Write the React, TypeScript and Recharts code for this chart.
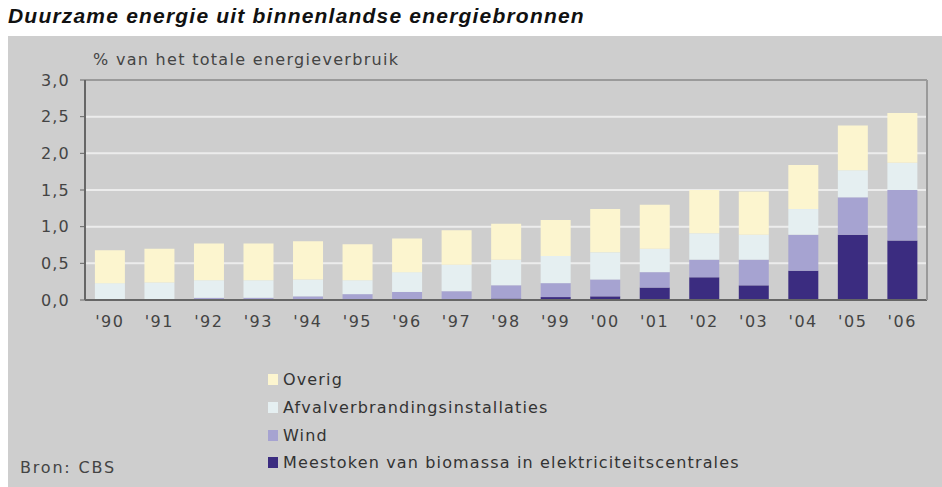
import React from "react";
import {
  BarChart,
  Bar,
  XAxis,
  YAxis,
  CartesianGrid,
  ReferenceLine,
  Legend,
} from "recharts";

const years = ["'90", "'91", "'92", "'93", "'94", "'95", "'96", "'97", "'98", "'99", "'00", "'01", "'02", "'03", "'04", "'05", "'06"];

const biomassa = [0, 0, 0, 0, 0, 0, 0, 0.01, 0.02, 0.04, 0.05, 0.17, 0.31, 0.2, 0.4, 0.89, 0.81];
const wind = [0.01, 0.01, 0.03, 0.03, 0.05, 0.08, 0.11, 0.11, 0.18, 0.19, 0.23, 0.21, 0.24, 0.35, 0.49, 0.51, 0.69];
const afval = [0.22, 0.23, 0.24, 0.24, 0.23, 0.19, 0.27, 0.36, 0.35, 0.37, 0.37, 0.32, 0.36, 0.34, 0.35, 0.37, 0.37];
const overig = [0.45, 0.46, 0.5, 0.5, 0.52, 0.49, 0.46, 0.47, 0.49, 0.49, 0.59, 0.6, 0.59, 0.59, 0.6, 0.61, 0.68];

const yTicks = [0, 0.5, 1, 1.5, 2, 2.5, 3];

// stack order bottom -> top
const series = [
  { key: "biomassa", name: "Meestoken van biomassa in elektriciteitscentrales", color: "#3b2c80" },
  { key: "wind", name: "Wind", color: "#a6a3d1" },
  { key: "afval", name: "Afvalverbrandingsinstallaties", color: "#e5eff1" },
  { key: "overig", name: "Overig", color: "#fcf5cf" },
];

const data = years.map((year, i) => ({
  year,
  biomassa: biomassa[i],
  wind: wind[i],
  afval: afval[i],
  overig: overig[i],
}));

const font = "'DejaVu Sans', Verdana, sans-serif";
const textStyle = { fontFamily: font, fontSize: 16, color: "#444", letterSpacing: 1.2 };

function LegendBox() {
  return (
    <div style={{ ...textStyle, color: "#333", letterSpacing: 1.15 }}>
      {[...series].reverse().map((s) => (
        <div key={s.key} style={{ display: "flex", alignItems: "center", height: 27.7 }}>
          <span style={{ width: 10, height: 11, background: s.color, marginRight: 5, display: "inline-block" }} />
          <span>{s.name}</span>
        </div>
      ))}
    </div>
  );
}

export default function App() {
  return (
    <div style={{ position: "absolute", left: 0, top: 0, width: 942, height: 487, background: "#fff", overflow: "hidden" }}>
      <div
        style={{
          position: "absolute",
          left: 8,
          top: 4,
          fontFamily: "'Liberation Sans', Arial, sans-serif",
          fontWeight: "bold",
          fontStyle: "italic",
          fontSize: 21,
          letterSpacing: 1.2,
          color: "#111",
        }}
      >
        Duurzame energie uit binnenlandse energiebronnen
      </div>
      <div style={{ position: "absolute", left: 8, top: 36, width: 934, height: 451, background: "#cecece" }} />
      <div style={{ ...textStyle, position: "absolute", left: 93, top: 50, letterSpacing: 1.3 }}>
        % van het totale energieverbruik
      </div>
      <div style={{ ...textStyle, position: "absolute", left: 20, top: 458, letterSpacing: 1.8 }}>
        Bron: CBS
      </div>
      <div style={{ position: "absolute", left: 0, top: 0 }}>
        <BarChart
          width={942}
          height={487}
          data={data}
          margin={{ top: 80, right: 14, bottom: 157, left: 5 }}
          barCategoryGap="20%"
        >
          <CartesianGrid vertical={false} stroke="#ececec" strokeWidth={2} />
          <XAxis
            dataKey="year"
            height={30}
            tickLine={false}
            axisLine={{ stroke: "#666", strokeWidth: 2 }}
            tick={{ fill: "#444", fontSize: 16, fontFamily: font, letterSpacing: 1.5 }}
            tickMargin={10}
            interval={0}
          />
          <YAxis
            width={80}
            domain={[0, 3]}
            ticks={yTicks}
            tickFormatter={(v: number) => v.toFixed(1).replace(".", ",")}
            axisLine={{ stroke: "#666", strokeWidth: 2 }}
            tickLine={{ stroke: "#666" }}
            tickSize={5}
            tickMargin={10}
            tick={{ fill: "#444", fontSize: 16, fontFamily: font, letterSpacing: 1.2 }}
          />
          <YAxis
            yAxisId="frame"
            orientation="right"
            width={1}
            domain={[0, 3]}
            tick={false}
            tickLine={false}
            axisLine={{ stroke: "#9a9a9a", strokeWidth: 2 }}
          />
          <ReferenceLine y={3} stroke="#9a9a9a" strokeWidth={2} />
          {series.map((s) => (
            <Bar
              key={s.key}
              dataKey={s.key}
              name={s.name}
              stackId="a"
              fill={s.color}
              isAnimationActive={false}
            />
          ))}
          <Legend
            layout="horizontal"
            verticalAlign="middle"
            align="center"
            wrapperStyle={{ left: 268, top: 366, width: 560 }}
            content={() => <LegendBox />}
          />
        </BarChart>
      </div>
    </div>
  );
}
